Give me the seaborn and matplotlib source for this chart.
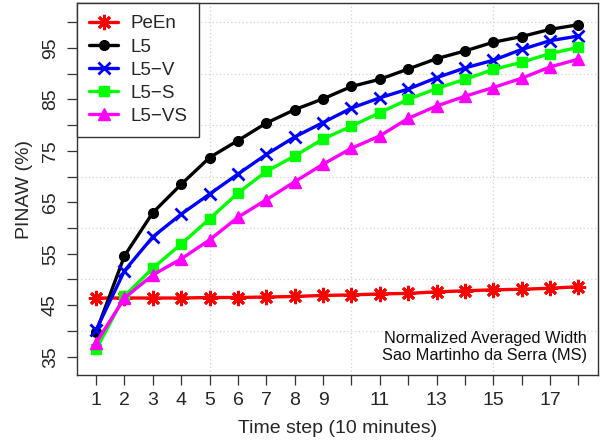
import matplotlib
matplotlib.use("Agg")
import matplotlib.pyplot as plt
import seaborn as sns
import pandas as pd
import numpy as np

steps = list(range(1, 19))
peen = [46.4, 46.4, 46.4, 46.4, 46.5, 46.5, 46.6, 46.7, 46.9, 47.0, 47.2, 47.3, 47.6, 47.8, 48.0, 48.1, 48.3, 48.6]
l5 = [39.8, 54.6, 63.0, 68.5, 73.7, 77.0, 80.4, 83.0, 85.1, 87.5, 88.9, 90.9, 92.9, 94.4, 96.1, 97.2, 98.6, 99.5]
l5_v = [40.2, 51.7, 58.3, 62.7, 66.6, 70.5, 74.3, 77.7, 80.5, 83.3, 85.3, 87.0, 89.2, 91.1, 92.6, 94.7, 96.4, 97.3]
l5_s = [36.4, 46.8, 52.2, 56.9, 61.8, 66.8, 71.0, 74.0, 77.3, 79.8, 82.4, 85.0, 87.1, 88.9, 90.8, 92.2, 93.9, 95.1]
l5_vs = [37.7, 46.4, 50.9, 54.0, 57.7, 62.1, 65.5, 69.0, 72.4, 75.5, 77.9, 81.3, 83.7, 85.6, 87.3, 89.1, 91.3, 92.8]

series_names = ["PeEn", "L5", "L5\u2212V", "L5\u2212S", "L5\u2212VS"]
series_values = [peen, l5, l5_v, l5_s, l5_vs]
colors = ["#ff0000", "#000000", "#0000ff", "#00ff00", "#ff00ff"]
markers = [(8, 2, 0), "o", "x", "s", "^"]
msizes = [11, 7, 9, 7, 8]

x_tick_labels = ["1", "2", "3", "4", "5", "6", "7", "8", "9", "", "11", "", "13", "", "15", "", "17", ""]
y_major = [35, 45, 55, 65, 75, 85, 95]
y_minor = [40, 50, 60, 70, 80, 90, 100]

sns.set_style("white")
plt.rcParams["font.family"] = ["Liberation Sans", "DejaVu Sans"]

fig = plt.figure(figsize=(6.05, 4.43), dpi=100)
ax = fig.add_axes([0.127, 0.153, 0.861, 0.840])

# grid
for gy in [40, 50, 60, 70, 80, 90, 100]:
    ax.axhline(gy, color="#d3d3d3", lw=0.9, ls=(0, (1, 2)), zorder=0)
for gx in [5, 10, 15]:
    ax.axvline(gx, color="#d3d3d3", lw=0.9, ls=(0, (1, 2)), zorder=0)

for name, vals, c, m, ms in zip(series_names, series_values, colors, markers, msizes):
    df = pd.DataFrame({"step": steps, "val": vals})
    mew = 2.0 if m in ["x", (8, 2, 0)] else 1.0
    sns.lineplot(data=df, x="step", y="val", ax=ax, color=c, marker=m, markersize=ms,
                 markeredgecolor=c, markerfacecolor=c, markeredgewidth=mew,
                 linewidth=2.4, label=name, zorder=3)

ax.set_xlim(0.32, 18.68)
ax.set_ylim(31.4, 103.7)

ax.set_xticks(steps)
ax.set_xticklabels(x_tick_labels)
ax.set_yticks(y_major + y_minor)
ax.set_yticklabels([str(v) for v in y_major] + [""] * len(y_minor))
ax.tick_params(axis="both", direction="out", length=7, width=0.9, color="#333333",
               labelsize=14, bottom=True, left=True)
ax.tick_params(axis="x", pad=5)
ax.tick_params(axis="y", pad=6)
for lab in ax.get_yticklabels():
    lab.set_rotation(90)
    lab.set_va("center")

for sp in ax.spines.values():
    sp.set_color("#333333")
    sp.set_linewidth(1.0)
    sp.set_visible(True)

ax.set_xlabel("Time step (10 minutes)", fontsize=14, labelpad=8)
ax.set_ylabel("PINAW (%)", fontsize=14, labelpad=6)

leg = ax.legend(loc="upper left", fontsize=13.5, frameon=True, fancybox=False,
                borderaxespad=0, handlelength=1.55, handletextpad=0.65,
                labelspacing=0.32, borderpad=0.65)
leg.get_frame().set_edgecolor("#333333")
leg.get_frame().set_linewidth(1.0)
leg.get_frame().set_alpha(1)

ax.text(0.98, 0.076, "Normalized Averaged Width\nSao Martinho da Serra (MS)",
        transform=ax.transAxes, ha="right", va="center", fontsize=11.8,
        linespacing=1.2, color="#111111")

fig.savefig("out.png", dpi=100)
